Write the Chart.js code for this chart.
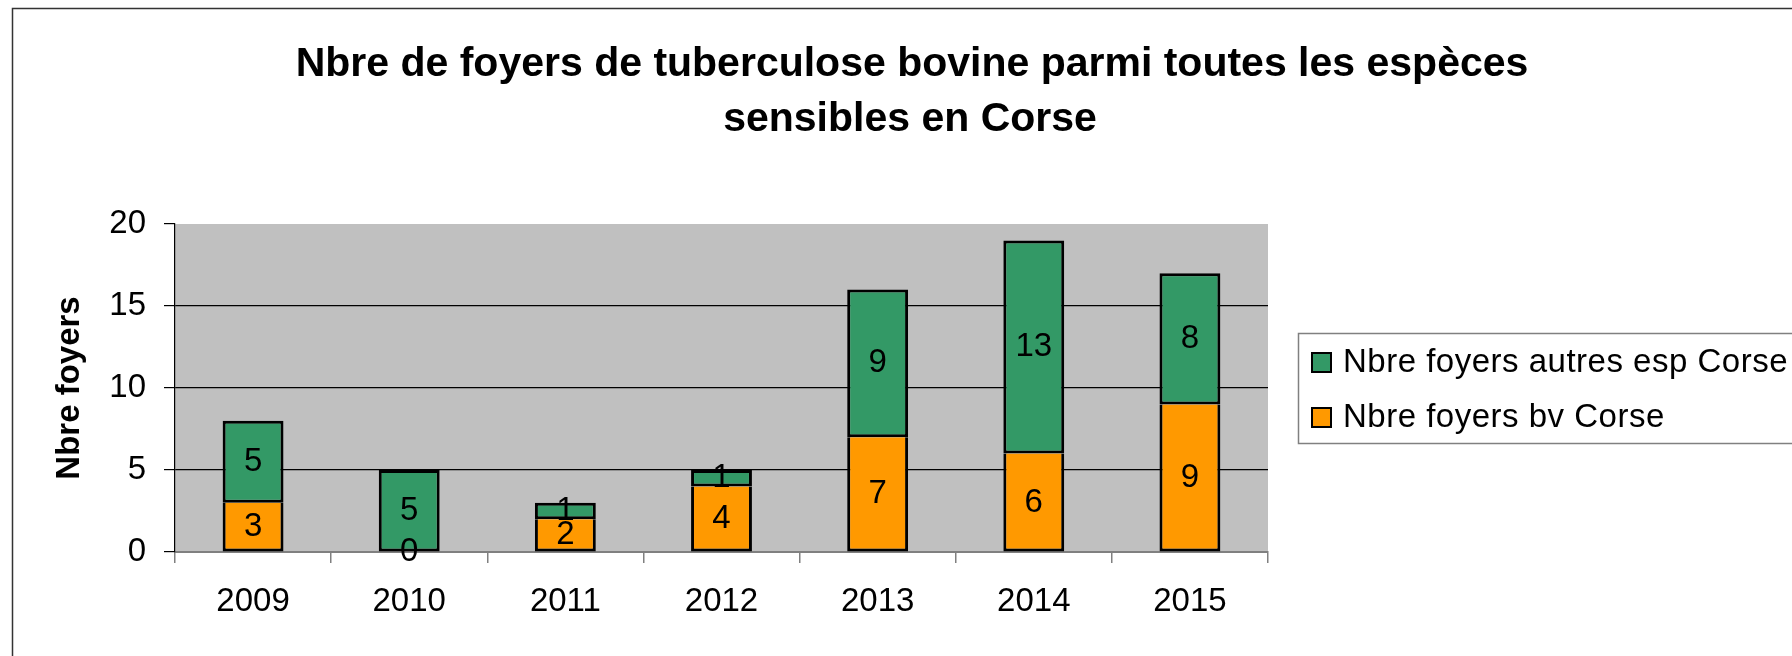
<!DOCTYPE html>
<html lang="fr">
<head>
<meta charset="utf-8">
<title>Foyers de tuberculose bovine en Corse</title>
<script src="https://cdn.jsdelivr.net/npm/chart.js@4/dist/chart.umd.min.js"></script>
<style>
  html, body { margin: 0; padding: 0; background: #fff; }
  canvas { display: block; }
</style>
</head>
<body>
<canvas id="chart" width="1792" height="656"></canvas>
<script>
const years = ['2009', '2010', '2011', '2012', '2013', '2014', '2015'];
const foyersBv = [3, 0, 2, 4, 7, 6, 9];
const foyersAutres = [5, 5, 1, 1, 9, 13, 8];
const yTicks = [0, 5, 10, 15, 20];
const titleLines = ['Nbre de foyers de tuberculose bovine parmi toutes les espèces', 'sensibles en Corse'];

const FONT = '"Liberation Sans", Arial, sans-serif';
const GREEN = '#339966', ORANGE = '#FF9900';

// cadre, fond gris de la zone de tracé, titre
const decor = {
  id: 'decor',
  beforeDraw(chart) {
    const { ctx, chartArea: a } = chart;
    ctx.save();
    ctx.fillStyle = '#fff';
    ctx.fillRect(0, 0, chart.width, chart.height);
    ctx.fillStyle = '#C0C0C0';
    ctx.fillRect(a.left, a.top, a.right - a.left, a.bottom - a.top);
    ctx.strokeStyle = '#333';
    ctx.lineWidth = 1.5;
    ctx.beginPath();
    ctx.moveTo(12.5, chart.height);
    ctx.lineTo(12.5, 8.5);
    ctx.lineTo(chart.width, 8.5);
    ctx.stroke();

    ctx.fillStyle = '#000';
    ctx.font = 'bold 41px ' + FONT;
    ctx.textAlign = 'center';
    ctx.textBaseline = 'alphabetic';
    ctx.fillText(titleLines[0], 912, 76);
    ctx.fillText(titleLines[1], 910, 131);
    ctx.restore();
  },
  afterDraw(chart) {
    // légende encadrée à droite
    const { ctx } = chart;
    ctx.save();
    ctx.strokeStyle = '#808080';
    ctx.lineWidth = 1.5;
    ctx.strokeRect(1298.5, 333.5, 520, 110);
    const items = [
      { label: chart.data.datasets[1].label, color: GREEN, y: 362 },
      { label: chart.data.datasets[0].label, color: ORANGE, y: 417 },
    ];
    ctx.font = '33px ' + FONT;
    ctx.letterSpacing = '0.5px';
    ctx.textBaseline = 'middle';
    ctx.textAlign = 'left';
    items.forEach(it => {
      ctx.fillStyle = it.color;
      ctx.fillRect(1311, it.y - 10, 21, 21);
      ctx.strokeStyle = '#000';
      ctx.lineWidth = 2;
      ctx.strokeRect(1312, it.y - 9, 19, 19);
      ctx.fillStyle = '#000';
      ctx.fillText(it.label, 1343, it.y + 1);
    });
    ctx.restore();
  }
};

// valeurs au centre de chaque segment
const valueLabels = {
  id: 'valueLabels',
  afterDatasetsDraw(chart) {
    const { ctx } = chart;
    ctx.save();
    ctx.font = '33px ' + FONT;
    ctx.fillStyle = '#000';
    ctx.textAlign = 'center';
    ctx.textBaseline = 'middle';
    chart.data.datasets.forEach((ds, i) => {
      chart.getDatasetMeta(i).data.forEach((bar, j) => {
        ctx.fillText(String(ds.data[j]), bar.x, (bar.y + bar.base) / 2);
      });
    });
    ctx.restore();
  }
};

new Chart(document.getElementById('chart'), {
  type: 'bar',
  data: {
    labels: years,
    datasets: [
      {
        label: 'Nbre foyers bv Corse', data: foyersBv,
        backgroundColor: ORANGE, borderColor: '#000',
        borderWidth: 3, borderSkipped: 'top',
      },
      {
        label: 'Nbre foyers autres esp Corse', data: foyersAutres,
        backgroundColor: GREEN, borderColor: '#000',
        borderWidth: 3, borderSkipped: false,
      }
    ]
  },
  options: {
    responsive: false, animation: false,
    layout: { padding: { left: 0, top: 224, right: 524, bottom: 0 } },
    categoryPercentage: 1, barPercentage: 0.39,
    plugins: {
      legend: { display: false },
      title: { display: false },
      tooltip: { enabled: false }
    },
    scales: {
      x: {
        stacked: true,
        afterFit: s => { s.height = 104; },
        grid: { drawOnChartArea: false, offset: true, color: '#808080', tickLength: 11, lineWidth: 1.5 },
        border: { color: '#808080', width: 2 },
        ticks: { color: '#000', font: { family: FONT, size: 33 }, padding: 19 }
      },
      y: {
        stacked: true, min: 0, max: 20,
        afterFit: s => { s.width = 175; },
        afterBuildTicks: s => { s.ticks = yTicks.map(v => ({ value: v })); },
        grid: {
          color: c => [5, 10, 15].includes(c.tick && c.tick.value) ? '#000' : 'rgba(0,0,0,0)',
          tickColor: '#000', tickLength: 11, lineWidth: 1.2
        },
        border: { color: '#000', width: 1.2 },
        ticks: { color: '#000', font: { family: FONT, size: 33 }, padding: 18 },
        title: {
          display: true, text: 'Nbre foyers', color: '#000',
          font: { family: FONT, size: 33, weight: 'bold' },
          padding: { top: 50, bottom: 0 }
        }
      }
    }
  },
  plugins: [decor, valueLabels]
});
</script>
</body>
</html>
